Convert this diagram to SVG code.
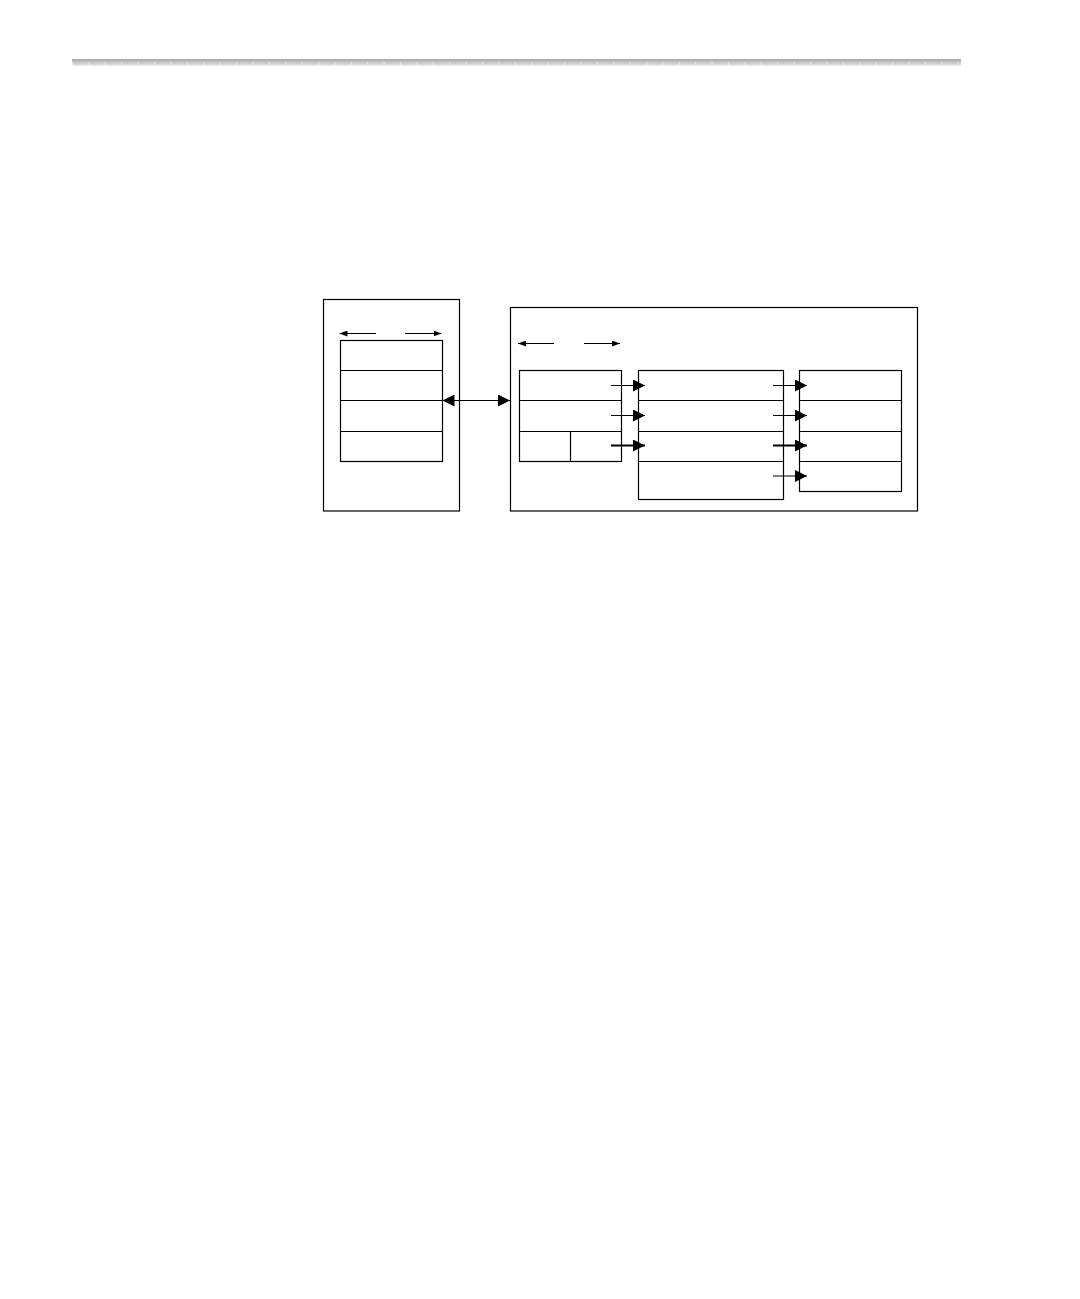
<svg xmlns="http://www.w3.org/2000/svg" width="1080" height="1299" viewBox="0 0 1080 1299">
  <style>
    .box { fill: none; stroke: #000; stroke-width: 1.2; }
    .ln { stroke: #000; stroke-width: 1.2; fill: none; }
    .conn { stroke: #000; stroke-width: 1.2; fill: none; }
    .thick { stroke-width: 2; }
  </style>
  <defs>
    <linearGradient id="barg" x1="0" y1="0" x2="0" y2="1">
      <stop offset="0" stop-color="#a8a8a8"/>
      <stop offset="0.5" stop-color="#c8c8c8"/>
      <stop offset="1" stop-color="#ececec"/>
    </linearGradient>
    <pattern id="ticks" x="72" y="0" width="16.4" height="20" patternUnits="userSpaceOnUse">
      <rect x="0" y="0" width="1" height="20" fill="#f0f0f0"/>
    </pattern>
    <marker id="ah" viewBox="0 0 12 12" refX="12" refY="6" markerWidth="12" markerHeight="12" markerUnits="userSpaceOnUse" orient="auto-start-reverse">
      <path d="M0,0 L12,6 L0,12 Z" fill="#000"/>
    </marker>
    <marker id="as" viewBox="0 0 8 6" refX="8" refY="3" markerWidth="8" markerHeight="6" markerUnits="userSpaceOnUse" orient="auto-start-reverse">
      <path d="M0,0 L8,3 L0,6 Z" fill="#000"/>
    </marker>
  </defs>

  <g id="header-bar">
    <rect x="72" y="59" width="889" height="7" fill="url(#barg)"/>
    <rect x="72" y="62" width="889" height="4" fill="url(#ticks)" opacity="0.8"/>
  </g>

  <g id="left-container">
    <rect class="box" x="323.5" y="299.5" width="136" height="211.5"/>
  </g>
  <g id="left-stack">
    <rect class="box" x="340.5" y="340.5" width="102" height="121"/>
    <line class="ln" x1="340.5" y1="370.5" x2="442.5" y2="370.5"/>
    <line class="ln" x1="340.5" y1="400.5" x2="442.5" y2="400.5"/>
    <line class="ln" x1="340.5" y1="431.5" x2="442.5" y2="431.5"/>
  </g>

  <g id="right-container">
    <rect class="box" x="510.5" y="307.5" width="407" height="203.5"/>
  </g>
  <g id="col1">
    <rect class="box" x="519.5" y="370.5" width="102" height="91"/>
    <line class="ln" x1="519.5" y1="400.5" x2="621.5" y2="400.5"/>
    <line class="ln" x1="519.5" y1="431.5" x2="621.5" y2="431.5"/>
    <line class="ln" x1="570.5" y1="431.5" x2="570.5" y2="461.5"/>
  </g>
  <g id="col2">
    <rect class="box" x="638.5" y="370.5" width="145" height="129"/>
    <line class="ln" x1="638.5" y1="400.5" x2="783.5" y2="400.5"/>
    <line class="ln" x1="638.5" y1="431.5" x2="783.5" y2="431.5"/>
    <line class="ln" x1="638.5" y1="461.5" x2="783.5" y2="461.5"/>
  </g>
  <g id="col3">
    <rect class="box" x="799.5" y="370.5" width="102" height="121"/>
    <line class="ln" x1="799.5" y1="400.5" x2="901.5" y2="400.5"/>
    <line class="ln" x1="799.5" y1="431.5" x2="901.5" y2="431.5"/>
    <line class="ln" x1="799.5" y1="461.5" x2="901.5" y2="461.5"/>
  </g>

  <g id="connectors">
    <!-- width arrows -->
    <line class="conn" x1="376" y1="333.5" x2="339.5" y2="333.5" marker-end="url(#as)"/>
    <line class="conn" x1="405" y1="333.5" x2="441.5" y2="333.5" marker-end="url(#as)"/>
    <line class="conn" x1="554" y1="343.5" x2="518" y2="343.5" marker-end="url(#as)"/>
    <line class="conn" x1="584" y1="343.5" x2="620" y2="343.5" marker-end="url(#as)"/>
    <!-- bidirectional -->
    <line class="conn" x1="442.5" y1="400.5" x2="510" y2="400.5" marker-start="url(#ah)" marker-end="url(#ah)"/>
    <!-- col1 to col2 -->
    <line class="conn" x1="611" y1="385.5" x2="645" y2="385.5" marker-end="url(#ah)"/>
    <line class="conn" x1="611" y1="415.5" x2="645" y2="415.5" marker-end="url(#ah)"/>
    <line class="conn thick" x1="611" y1="445.5" x2="645" y2="445.5" marker-end="url(#ah)"/>
    <!-- col2 to col3 -->
    <line class="conn" x1="773" y1="385.5" x2="807" y2="385.5" marker-end="url(#ah)"/>
    <line class="conn" x1="773" y1="415.5" x2="807" y2="415.5" marker-end="url(#ah)"/>
    <line class="conn thick" x1="773" y1="445.5" x2="807" y2="445.5" marker-end="url(#ah)"/>
    <line class="conn" x1="773" y1="476" x2="807" y2="476" marker-end="url(#ah)"/>
  </g>
</svg>
